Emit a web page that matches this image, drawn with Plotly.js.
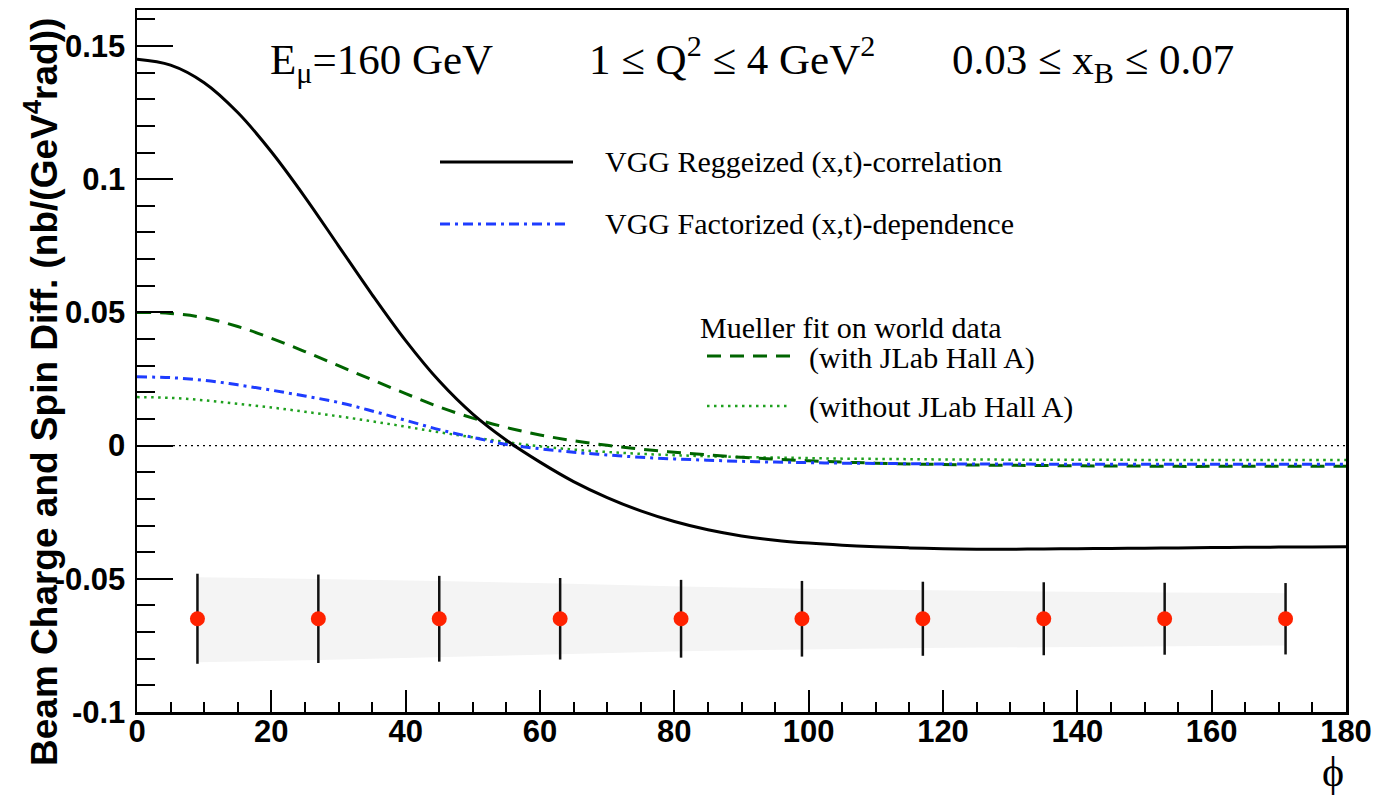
<!DOCTYPE html>
<html>
<head>
<meta charset="utf-8">
<script src="https://cdn.plot.ly/plotly-3.0.1.min.js"></script>
<style>html,body{margin:0;padding:0;background:#fff;}#chart{width:1376px;height:798px;}</style>
</head>
<body>
<div id="chart"></div>
<script>
// ---------- data ----------
const phi = [0,5,10,15,20,25,30,35,40,45,50,55,60,65,70,75,80,85,90,95,100,105,110,115,120,125,130,135,140,145,150,155,160,165,170,175,180];

const vggReggeized = [0.1450,0.1428,0.1362,0.1250,0.1103,0.0933,0.0750,0.0567,0.0394,0.0242,0.0118,0.0020,-0.0062,-0.0135,-0.0195,-0.0245,-0.0285,-0.0316,-0.0339,-0.0355,-0.0366,-0.0374,-0.0380,-0.0384,-0.0387,-0.0389,-0.0389,-0.0388,-0.0387,-0.0386,-0.0385,-0.0384,-0.0383,-0.0382,-0.0381,-0.0381,-0.0380];

const vggFactorized = [0.0258,0.0255,0.0245,0.0228,0.0208,0.0186,0.0162,0.0130,0.0095,0.0060,0.0031,0.0004,-0.0012,-0.0025,-0.0035,-0.0044,-0.0050,-0.0055,-0.0059,-0.0062,-0.0064,-0.0066,-0.0067,-0.0068,-0.0069,-0.0069,-0.0069,-0.0070,-0.0070,-0.0070,-0.0070,-0.0070,-0.0070,-0.0070,-0.0070,-0.0070,-0.0070];

const muellerWithHallA = [0.0500,0.0496,0.0480,0.0447,0.0403,0.0353,0.0300,0.0247,0.0195,0.0145,0.0103,0.0068,0.0040,0.0018,0.0001,-0.0013,-0.0025,-0.0035,-0.0044,-0.0051,-0.0057,-0.0062,-0.0066,-0.0069,-0.0071,-0.0073,-0.0074,-0.0075,-0.0076,-0.0077,-0.0077,-0.0078,-0.0078,-0.0078,-0.0078,-0.0078,-0.0078];

const muellerWithoutHallA = [0.0182,0.0179,0.0170,0.0157,0.0143,0.0127,0.0110,0.0091,0.0071,0.0050,0.0031,0.0013,-0.0003,-0.0015,-0.0024,-0.0031,-0.0036,-0.0040,-0.0043,-0.0045,-0.0047,-0.0049,-0.0050,-0.0051,-0.0052,-0.0052,-0.0053,-0.0053,-0.0053,-0.0053,-0.0054,-0.0054,-0.0054,-0.0054,-0.0054,-0.0054,-0.0054];

const binPhi = [9,27,45,63,81,99,117,135,153,171];
const binValue = [-0.065,-0.065,-0.065,-0.065,-0.065,-0.065,-0.065,-0.065,-0.065,-0.065];
const binError = [0.0169,0.0166,0.0161,0.0153,0.0146,0.0142,0.0139,0.0137,0.0135,0.0134];
const bandTop = [-0.0494,-0.0500,-0.0508,-0.0518,-0.0529,-0.0537,-0.0543,-0.0548,-0.0551,-0.0554];
const bandBottom = [-0.0813,-0.0805,-0.0795,-0.0783,-0.0772,-0.0765,-0.0760,-0.0756,-0.0753,-0.0750];

const yTickVals = [-0.1,-0.05,0,0.05,0.1,0.15];
const yTickText = ['-0.1','-0.05','0','0.05','0.1','0.15'];

// ---------- styles ----------
const C_BLACK = '#000000';
const C_BLUE = '#1e3cff';
const C_DKGREEN = '#006400';
const C_GREEN = '#1ea01e';
const DASH_DASHDOT = '10px,5px,3px,5px';
const DASH_DASHED = '14px,9px';
const DASH_DOTTED = '2.5px,4.5px';

const serif = 'Liberation Serif, Times New Roman, serif';
const sans = 'Liberation Sans, Arial, sans-serif';

const traces = [
  {
    x: binPhi.concat(binPhi.slice().reverse()),
    y: bandTop.concat(bandBottom.slice().reverse()),
    type: 'scatter', mode: 'lines', fill: 'toself',
    fillcolor: '#f4f4f4', line: {width: 0}, hoverinfo: 'skip', showlegend: false
  },
  {
    x: phi, y: muellerWithoutHallA, type: 'scatter', mode: 'lines',
    line: {color: C_GREEN, width: 2.5, dash: DASH_DOTTED, shape: 'spline'}, showlegend: false
  },
  {
    x: phi, y: muellerWithHallA, type: 'scatter', mode: 'lines',
    line: {color: C_DKGREEN, width: 3, dash: DASH_DASHED, shape: 'spline'}, showlegend: false
  },
  {
    x: phi, y: vggFactorized, type: 'scatter', mode: 'lines',
    line: {color: C_BLUE, width: 3, dash: DASH_DASHDOT, shape: 'spline'}, showlegend: false
  },
  {
    x: phi, y: vggReggeized, type: 'scatter', mode: 'lines',
    line: {color: C_BLACK, width: 3, shape: 'spline'}, showlegend: false
  },
  {
    x: binPhi, y: binValue, type: 'scatter', mode: 'markers',
    marker: {color: '#ff2200', size: 15, line: {width: 0}},
    error_y: {type: 'data', array: binError, visible: true, color: '#111', thickness: 2.5, width: 0},
    showlegend: false
  }
];

function px2paperX(px){ return (px - 137) / 1209; }
function px2paperY(py){ return (712 - py) / 702; }

const legendSamples = [
  {x0: 440, x1: 573, y: 162, color: C_BLACK, width: 3, dash: 'solid'},
  {x0: 440, x1: 570, y: 224, color: C_BLUE, width: 3, dash: DASH_DASHDOT},
  {x0: 707, x1: 790, y: 356, color: C_DKGREEN, width: 3, dash: DASH_DASHED},
  {x0: 707, x1: 790, y: 406, color: C_GREEN, width: 2.5, dash: DASH_DOTTED}
];

const shapes = [
  {type: 'line', xref: 'paper', yref: 'y', x0: 0, x1: 1, y0: 0, y1: 0,
   line: {color: '#000', width: 1.3, dash: '2px,4px'}, layer: 'below'}
].concat(legendSamples.map(s => ({
  type: 'line', xref: 'paper', yref: 'paper',
  x0: px2paperX(s.x0), x1: px2paperX(s.x1), y0: px2paperY(s.y), y1: px2paperY(s.y),
  line: {color: s.color, width: s.width, dash: s.dash}
})));

const legendTexts = [
  {text: 'VGG Reggeized (x,t)-correlation', x: 603, y: 162},
  {text: 'VGG Factorized (x,t)-dependence', x: 603, y: 224},
  {text: 'Mueller fit on world data', x: 698, y: 328},
  {text: '(with JLab Hall A)', x: 807, y: 358},
  {text: '(without JLab Hall A)', x: 807, y: 407}
];

const headerTexts = [
  {text: 'E<sub>μ</sub>=160 GeV', x: 268, y: 63},
  {text: '1 ≤ Q<sup>2</sup> ≤ 4 GeV<sup>2</sup>', x: 587, y: 56},
  {text: '0.03 ≤ x<sub>B</sub> ≤ 0.07', x: 950, y: 63}
];

const annotations = []
  .concat(legendTexts.map(t => ({
    text: t.text, xref: 'paper', yref: 'paper', x: px2paperX(t.x), y: px2paperY(t.y),
    xanchor: 'left', yanchor: 'middle', showarrow: false,
    font: {family: serif, size: 30, color: '#000'}
  })))
  .concat(headerTexts.map(t => ({
    text: t.text, xref: 'paper', yref: 'paper', x: px2paperX(t.x), y: px2paperY(t.y),
    xanchor: 'left', yanchor: 'middle', showarrow: false,
    font: {family: serif, size: 43, color: '#000'}
  })))
  .concat([
    {text: '<b>Beam Charge and Spin Diff. (nb/(GeV<sup>4</sup>rad))</b>', xref: 'paper', yref: 'paper',
     x: px2paperX(41), y: px2paperY(392), xanchor: 'center', yanchor: 'middle', textangle: -90,
     showarrow: false, font: {family: sans, size: 37, color: '#000'}},
    {text: 'ϕ', xref: 'paper', yref: 'paper', x: px2paperX(1333), y: px2paperY(772),
     xanchor: 'center', yanchor: 'middle', showarrow: false,
     font: {family: serif, size: 42, color: '#000'}}
  ]);

const layout = {
  width: 1376, height: 798,
  margin: {l: 137, r: 30, t: 10, b: 86, pad: 0},
  paper_bgcolor: '#fff', plot_bgcolor: '#fff',
  showlegend: false,
  xaxis: {
    range: [0, 180], dtick: 20, tick0: 0,
    showgrid: false, zeroline: false,
    showline: true, linecolor: '#000', linewidth: 2.5, mirror: true,
    ticks: 'inside', ticklen: 22, tickwidth: 2, tickcolor: '#000',
    minor: {dtick: 5, tick0: 0, ticks: 'inside', ticklen: 10, tickwidth: 2, tickcolor: '#000', showgrid: false},
    tickfont: {family: sans, size: 31, color: '#000', weight: 'bold'},
    ticklabelstandoff: -10
  },
  yaxis: {
    range: [-0.1, 0.1635],
    tickmode: 'array', tickvals: yTickVals, ticktext: yTickText,
    showgrid: false, zeroline: false,
    showline: true, linecolor: '#000', linewidth: 2.5, mirror: true,
    ticks: 'inside', ticklen: 36, tickwidth: 2, tickcolor: '#000',
    minor: {tickmode: 'linear', dtick: 0.01, tick0: 0, ticks: 'inside', ticklen: 18, tickwidth: 2, tickcolor: '#000', showgrid: false},
    tickfont: {family: sans, size: 31, color: '#000', weight: 'bold'},
    ticklabelstandoff: 3
  },
  shapes: shapes,
  annotations: annotations
};

Plotly.newPlot('chart', traces, layout, {displayModeBar: false, staticPlot: true});
</script>
</body>
</html>
